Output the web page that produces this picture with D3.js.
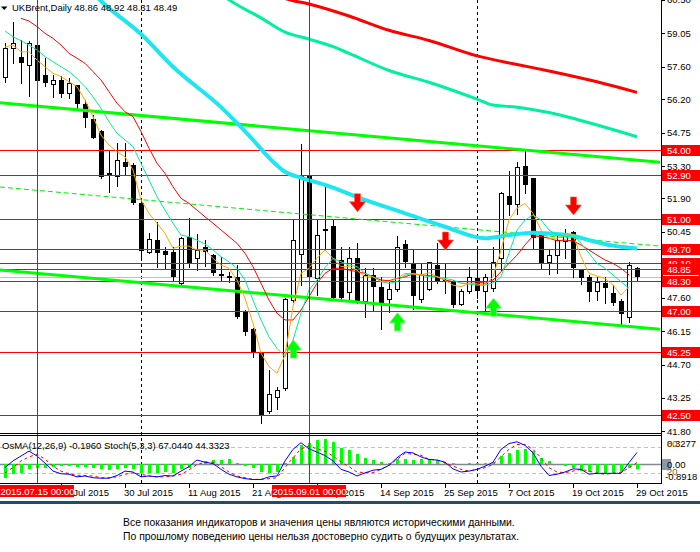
<!DOCTYPE html>
<html>
<head>
<meta charset="utf-8">
<script src="https://d3js.org/d3.v7.min.js"></script>
<style>
body { margin: 0; background: #fff; }
svg { display: block; font-family: "Liberation Sans", Arial, sans-serif; }
</style>
</head>
<body>
<svg id="chart" width="700" height="552"></svg>
<script>
// daily bars, index 0 = 9 Jul 2015 ... 79 = 29 Oct 2015  [open, high, low, close]
var bars = [
    [57.14, 58.65, 56.93, 58.43], [58.41, 59.55, 57.78, 58.64], [58.01, 58.76, 56.88, 57.78], [57.66, 58.73, 56.33, 58.62],
    [58.54, 58.62, 56.90, 56.98], [57.24, 57.97, 56.78, 56.91], [56.84, 57.24, 56.30, 57.01], [57.03, 57.20, 56.28, 56.42],
    [56.45, 57.10, 56.26, 56.91], [56.81, 56.83, 55.80, 55.97], [55.99, 56.16, 55.00, 55.39], [55.34, 55.51, 54.50, 54.53],
    [54.82, 54.85, 52.76, 52.81], [52.98, 53.99, 52.19, 52.91], [52.88, 54.28, 52.45, 53.56], [53.49, 54.31, 52.91, 53.27],
    [53.34, 53.42, 51.65, 51.71], [51.71, 51.90, 49.26, 49.62], [49.59, 50.38, 49.52, 50.12], [50.09, 50.89, 48.94, 49.54],
    [49.62, 49.80, 48.87, 49.45], [49.59, 49.78, 48.33, 48.48], [48.24, 50.24, 48.19, 50.17], [50.21, 51.03, 48.94, 49.11],
    [49.30, 50.35, 48.79, 49.66], [49.78, 50.10, 48.95, 49.56], [49.44, 49.50, 48.57, 48.65], [48.60, 49.37, 48.36, 48.56],
    [48.53, 48.72, 48.29, 48.43], [48.50, 49.01, 46.70, 46.77], [46.99, 47.05, 46.00, 46.12], [46.24, 46.30, 45.01, 45.23],
    [45.21, 45.25, 42.18, 42.47], [42.70, 44.46, 42.61, 43.41], [43.28, 43.71, 42.76, 43.59], [43.69, 47.58, 43.60, 47.52],
    [47.50, 50.96, 47.40, 50.10], [49.47, 54.25, 48.15, 52.87], [52.86, 52.90, 48.40, 48.48], [48.43, 50.98, 47.71, 50.31],
    [50.58, 52.40, 49.66, 50.48], [50.70, 50.98, 47.50, 47.57], [49.23, 49.80, 47.50, 47.57], [47.85, 49.80, 47.50, 49.30],
    [49.30, 49.95, 47.35, 47.42], [47.46, 48.87, 46.77, 48.58], [48.58, 48.87, 47.06, 48.07], [48.07, 48.50, 46.23, 47.35],
    [47.53, 48.29, 46.99, 47.96], [47.96, 50.26, 47.90, 49.80], [49.92, 50.09, 48.94, 49.16], [49.05, 49.66, 47.10, 47.68],
    [47.53, 49.08, 47.42, 48.61], [47.97, 49.16, 47.91, 49.12], [49.01, 49.96, 48.22, 48.29], [48.35, 49.08, 47.78, 48.28],
    [48.29, 48.35, 47.20, 47.28], [47.32, 47.96, 47.28, 47.89], [47.89, 48.94, 47.78, 48.50], [48.43, 49.66, 47.60, 47.89],
    [47.89, 48.64, 47.06, 48.47], [48.00, 49.80, 47.90, 49.15], [49.30, 52.19, 48.80, 52.14], [52.00, 53.10, 51.18, 51.61],
    [51.64, 53.49, 51.21, 53.24], [53.30, 53.96, 52.12, 52.48], [52.77, 52.80, 49.73, 50.17], [50.31, 50.35, 48.82, 49.08],
    [49.15, 49.66, 48.62, 49.44], [49.44, 50.38, 48.65, 50.09], [50.06, 50.59, 49.30, 50.40], [50.45, 50.48, 48.50, 48.87],
    [48.79, 48.82, 48.19, 48.43], [48.50, 48.58, 47.46, 47.85], [47.90, 48.47, 47.50, 48.26], [48.22, 48.47, 47.38, 48.03],
    [47.78, 48.14, 47.28, 47.38], [47.46, 47.53, 46.45, 46.89], [46.74, 49.15, 46.56, 49.01], [48.86, 48.92, 48.31, 48.49]
];

// thin moving averages, one value per bar
var maOrange = [58.46, 58.54, 58.25, 58.25, 57.89, 57.60, 57.32, 57.17, 56.95, 56.74,
    56.16, 55.44, 54.64, 54.21, 53.92, 53.70, 53.13, 51.83, 51.25, 50.82,
    50.38, 49.73, 49.83, 49.83, 49.66, 49.66, 49.30, 49.01, 48.87, 48.36,
    47.57, 46.49, 45.19, 44.61, 44.32, 45.11, 47.20, 48.65, 48.87, 49.30,
    49.66, 49.30, 48.94, 48.94, 48.79, 48.50, 48.50, 48.29, 48.29, 48.43,
    48.65, 48.62, 48.58, 48.68, 48.50, 48.36, 48.14, 48.07, 48.22, 48.19,
    48.14, 48.50, 49.66, 50.96, 51.47, 51.68, 51.25, 50.53, 50.17, 50.17,
    50.31, 50.31, 49.37, 48.65, 48.53, 48.43, 48.14, 47.71, 48.07];
var maGreen = [59.15, 58.90, 58.73, 58.54, 58.33, 58.04, 57.82, 57.60, 57.39, 57.10,
    56.74, 56.30, 55.80, 55.22, 54.72, 54.43, 54.14, 53.42, 52.69, 51.97,
    51.39, 50.82, 50.31, 50.24, 50.09, 49.92, 49.66, 49.37, 49.15, 48.87,
    48.36, 47.49, 46.63, 45.90, 45.40, 45.04, 45.76, 46.92, 47.93, 48.36,
    48.90, 49.30, 49.15, 49.01, 48.94, 48.65, 48.50, 48.29, 48.22, 48.29,
    48.58, 48.65, 48.58, 48.50, 48.50, 48.43, 48.36, 48.22, 48.19, 48.14,
    48.14, 48.23, 48.50, 49.52, 50.53, 50.96, 51.18, 50.96, 50.53, 50.31,
    50.24, 50.31, 49.95, 49.52, 49.08, 48.87, 48.58, 48.29, 48.00];
var maRed = [null, null, 59.70, 59.58, 59.34, 59.05, 58.83, 58.54, 58.18, 57.97,
    57.75, 57.39, 57.03, 56.52, 56.02, 55.65, 55.44, 54.79, 54.07, 53.42,
    52.98, 52.40, 51.90, 51.68, 51.39, 51.10, 50.82, 50.53, 50.24, 49.95,
    49.52, 48.94, 48.22, 47.49, 46.92, 46.63, 46.63, 47.06, 47.64, 48.22,
    48.65, 48.87, 48.87, 48.79, 48.72, 48.65, 48.50, 48.36, 48.33, 48.43,
    48.50, 48.62, 48.58, 48.55, 48.50, 48.36, 48.29, 48.29, 48.29, 48.27,
    48.22, 48.36, 48.72, 49.08, 49.44, 49.88, 50.27, 50.24, 50.17, 50.06,
    50.09, 50.06, 49.88, 49.66, 49.44, 49.23, 49.08, 48.87, 48.58];

// thick moving averages, read at [bar, price]
var maCyan = [[11, 60.8], [12, 60.45], [17, 59.02], [21, 57.60], [27, 55.85], [31, 54.43], [33, 53.66],
    [35, 53.05], [37, 52.79], [40, 52.48], [45, 51.83], [50, 51.25], [55, 50.67], [60, 50.17],
    [63, 50.31], [66, 50.41], [68, 50.38], [71, 50.28], [73, 50.09], [76, 49.85], [79, 49.73]];
var maSpring = [[27, 60.75], [28, 60.50], [32, 59.72], [35, 59.10], [38, 58.80], [41, 58.47], [43, 58.18],
    [48, 57.44], [53, 56.93], [59, 56.20], [61, 55.94], [64, 55.85], [68, 55.62], [74, 55.08], [79, 54.57]];
var maSlow = [[34, 60.70], [35, 60.56], [38, 60.32], [43, 59.80], [48, 59.18], [53, 58.74], [59, 58.07],
    [64, 57.70], [68, 57.42], [74, 56.95], [79, 56.49]];

// drawn objects
var levels = [54.00, 52.90, 51.00, 49.70, 49.10, 48.85, 48.30, 47.00, 45.25, 42.50];
var trendUpper = [[-0.625, 56.04], [81.875, 53.46]];
var trendLower = [[-0.625, 48.79], [81.875, 46.23]];
var trendDotted = [[-0.625, 52.39], [81.875, 49.83]];
var arrowsDown = [[44, 51.32], [55, 49.66], [71, 51.18]];
var arrowsUp = [[36, 45.76], [49, 46.94], [61, 47.57]];
var markedBars = [[4, '2015.07.15 00:00'], [38, '2015.09.01 00:00']];
var monthStarts = [17, 38, 59];
var lastPrice = 48.49;

// indicator window
var osma = [-0.60, -0.45, -0.38, -0.23, -0.15, -0.15, -0.10, -0.08, -0.08, -0.10,
    -0.10, -0.18, -0.23, -0.26, -0.23, -0.18, -0.23, -0.38, -0.41, -0.38,
    -0.35, -0.38, -0.23, -0.15, 0.02, 0.15, 0.20, 0.20, 0.26, 0.08,
    -0.08, -0.15, -0.35, -0.41, -0.35, 0.05, 0.35, 0.88, 0.95, 1.09,
    1.14, 1.01, 0.76, 0.65, 0.45, 0.30, 0.20, 0.10, 0.08, 0.26,
    0.26, 0.20, 0.26, 0.23, 0.20, 0.08, 0.05, 0.01, 0.08, 0.05,
    0.08, 0.10, 0.38, 0.50, 0.65, 0.71, 0.60, 0.30, 0.15, 0.00,
    -0.08, -0.15, -0.30, -0.35, -0.38, -0.38, -0.38, -0.35, -0.15, -0.196];
var stochMain = [33, 48, 59, 70, 59, 43, 25, 19, 18, 12, 14, 10, 9, 9, 15, 25, 23, 12, 14, 12,
    15, 14, 25, 35, 50, 45, 42, 29, 18, 12, 8, 6, 6, 12, 14, 48, 74, 89, 75, 68,
    60, 48, 29, 23, 14, 21, 27, 29, 38, 55, 68, 66, 57, 51, 50, 45, 30, 23, 25, 29,
    36, 45, 74, 87, 91, 83, 66, 36, 15, 18, 23, 30, 29, 18, 20, 20, 20, 20, 44, 67];
var stochSignal = [21, 33, 48, 57, 63, 52, 36, 25, 19, 15.5, 15, 14, 10, 10, 12, 18, 21, 18, 14, 12,
    12, 14, 18, 27.5, 40, 45, 45, 35, 23, 14, 10, 6.5, 6.5, 8, 10, 33, 55, 75, 81.5, 75,
    70, 59, 45.5, 35, 23, 21.5, 21.5, 29, 38, 51.5, 65, 63, 60.5, 51.5, 50, 44, 36.5, 29, 25, 29,
    32.5, 40, 57.5, 74, 85, 85, 74, 55, 32.5, 23, 21.5, 25, 29, 25, 20, 18, 20, 21.5, 32.5, 44];

// axes
var priceTicks = [60.50, 59.05, 57.60, 56.20, 54.75, 53.30, 51.90, 50.45, 49.00, 47.60, 46.15, 44.70, 43.25, 41.80];
var dateTicks = [[7, '20 Jul 2015'], [15, '30 Jul 2015'], [23, '11 Aug 2015'], [31, '21 Aug 2015'], [39, '2 Sep 2015'],
    [47, '14 Sep 2015'], [55, '25 Sep 2015'], [63, '7 Oct 2015'], [71, '19 Oct 2015'], [79, '29 Oct 2015']];
var footerLines = ['Все показания индикаторов и значения цены являются историческими данными.',
    'По прошлому поведению цены нельзя достоверно судить о будущих результатах.'];

var svg = d3.select('#chart');
var axisX = 661;

var xScale = d3.scaleLinear().domain([0, 79]).range([5, 637]);
var yScale = d3.scaleLinear().domain([41.689, 60.493]).range([434, 0]);
var stochScale = d3.scaleLinear().domain([0, 100]).range([482.2, 437.8]);
var osmaScale = d3.scaleLinear().domain([0, 1]).range([464.3, 442.3]);

function px(v) {
    return Math.round(v) + 0.5;
}

var defs = svg.append('defs');
defs.append('clipPath').attr('id', 'mainClip')
    .append('rect').attr('x', 0).attr('y', 0).attr('width', axisX).attr('height', 433);
defs.append('clipPath').attr('id', 'indClip')
    .append('rect').attr('x', 0).attr('y', 436).attr('width', axisX).attr('height', 47);

svg.append('rect').attr('width', 700).attr('height', 552).attr('fill', '#fff');

// period separators
svg.selectAll('.sep').data(monthStarts).enter().append('line')
    .attr('class', 'sep')
    .attr('x1', function (d) { return px(xScale(d)); })
    .attr('x2', function (d) { return px(xScale(d)); })
    .attr('y1', 0).attr('y2', 483)
    .style('stroke', '#000')
    .style('stroke-dasharray', '3,3')
    .style('shape-rendering', 'crispEdges');

var main = svg.append('g').attr('clip-path', 'url(#mainClip)');

main.append('line')
    .attr('x1', 0).attr('x2', axisX)
    .attr('y1', px(yScale(lastPrice))).attr('y2', px(yScale(lastPrice)))
    .style('stroke', '#c0c0c0')
    .style('shape-rendering', 'crispEdges');

// candles
var candle = main.selectAll('.candle').data(bars).enter().append('g')
    .attr('class', 'candle')
    .style('shape-rendering', 'crispEdges');
candle.append('line')
    .attr('x1', function (d, i) { return px(xScale(i)); })
    .attr('x2', function (d, i) { return px(xScale(i)); })
    .attr('y1', function (d) { return Math.round(yScale(d[1])); })
    .attr('y2', function (d) { return Math.round(yScale(d[2])) + 1; })
    .style('stroke', '#000');
candle.append('rect')
    .attr('x', function (d, i) { return d[3] >= d[0] ? Math.round(xScale(i)) - 1.5 : Math.round(xScale(i)) - 2; })
    .attr('y', function (d) {
        var t = Math.round(yScale(Math.max(d[0], d[3])));
        return d[3] >= d[0] ? t + 0.5 : t;
    })
    .attr('width', function (d) { return d[3] >= d[0] ? 4 : 5; })
    .attr('height', function (d) {
        var h = Math.round(yScale(Math.min(d[0], d[3]))) - Math.round(yScale(Math.max(d[0], d[3])));
        return d[3] >= d[0] ? Math.max(h, 1) : Math.max(h, 2);
    })
    .style('fill', function (d) { return d[3] >= d[0] ? '#fff' : '#000'; })
    .style('stroke', function (d) { return d[3] >= d[0] ? '#000' : 'none'; });

// horizontal levels
main.selectAll('.level').data(levels).enter().append('line')
    .attr('class', 'level')
    .attr('x1', 0).attr('x2', axisX)
    .attr('y1', function (d) { return px(yScale(d)); })
    .attr('y2', function (d) { return px(yScale(d)); })
    .style('stroke', '#ff0000')
    .style('shape-rendering', 'crispEdges');

var lineGen = d3.line()
    .x(function (d) { return xScale(d[0]); })
    .y(function (d) { return yScale(d[1]); });
var smoothGen = d3.line()
    .curve(d3.curveMonotoneX)
    .x(function (d) { return xScale(d[0]); })
    .y(function (d) { return yScale(d[1]); });
var barGen = d3.line()
    .defined(function (d) { return d != null; })
    .x(function (d, i) { return xScale(i); })
    .y(function (d) { return yScale(d); });

// trend lines
main.append('path').attr('d', lineGen(trendUpper))
    .style('fill', 'none').style('stroke', '#00ff00').style('stroke-width', 3);
main.append('path').attr('d', lineGen(trendLower))
    .style('fill', 'none').style('stroke', '#00ff00').style('stroke-width', 3);
main.append('path').attr('d', lineGen(trendDotted))
    .style('fill', 'none').style('stroke', '#00ee00').style('stroke-width', 1)
    .style('stroke-dasharray', '5,3');

// moving averages
main.append('path').attr('d', smoothGen(maSlow))
    .style('fill', 'none').style('stroke', '#ff0000').style('stroke-width', 3);
main.append('path').attr('d', smoothGen(maSpring))
    .style('fill', 'none').style('stroke', '#00f0a0').style('stroke-width', 3);
main.append('path').attr('d', smoothGen(maCyan))
    .style('fill', 'none').style('stroke', '#1ee6f0').style('stroke-width', 4);
main.append('path').attr('d', barGen(maRed))
    .style('fill', 'none').style('stroke', '#ff0000').style('stroke-width', 1);
main.append('path').attr('d', barGen(maGreen))
    .style('fill', 'none').style('stroke', '#00f090').style('stroke-width', 1);
main.append('path').attr('d', barGen(maOrange))
    .style('fill', 'none').style('stroke', '#ffa500').style('stroke-width', 1);

// arrows
var downArrow = 'M-3,-18L3,-18L3,-10L8,-10L0,0L-8,-10L-3,-10Z';
var upArrow = 'M-3,18L3,18L3,10L8,10L0,0L-8,10L-3,10Z';
main.selectAll('.arrDown').data(arrowsDown).enter().append('path')
    .attr('class', 'arrDown')
    .attr('d', downArrow)
    .attr('transform', function (d) { return 'translate(' + (xScale(d[0]) + 0.5) + ',' + yScale(d[1]) + ')'; })
    .style('fill', '#ff0000')
    .style('stroke', '#ff6040')
    .style('stroke-width', 0.6);
main.selectAll('.arrUp').data(arrowsUp).enter().append('path')
    .attr('class', 'arrUp')
    .attr('d', upArrow)
    .attr('transform', function (d) { return 'translate(' + (xScale(d[0]) + 0.5) + ',' + yScale(d[1]) + ')'; })
    .style('fill', '#00ff00')
    .style('stroke', '#60ff60')
    .style('stroke-width', 0.6);

// indicator window
var ind = svg.append('g').attr('clip-path', 'url(#indClip)');
ind.selectAll('.lvl').data([80, 20]).enter().append('line')
    .attr('x1', 0).attr('x2', axisX)
    .attr('y1', function (d) { return px(stochScale(d)); })
    .attr('y2', function (d) { return px(stochScale(d)); })
    .style('stroke', '#c0c0c0')
    .style('stroke-dasharray', '4,3')
    .style('shape-rendering', 'crispEdges');
ind.append('line')
    .attr('x1', 0).attr('x2', axisX)
    .attr('y1', px(osmaScale(0))).attr('y2', px(osmaScale(0)))
    .style('stroke', '#808890')
    .style('stroke-width', 1.5);
ind.selectAll('.osma').data(osma).enter().append('rect')
    .attr('class', 'osma')
    .attr('x', function (d, i) { return Math.round(xScale(i)) - 1; })
    .attr('y', function (d) { return Math.min(osmaScale(d), osmaScale(0)); })
    .attr('width', 3)
    .attr('height', function (d) { return Math.abs(osmaScale(d) - osmaScale(0)); })
    .style('fill', '#00ff00')
    .style('shape-rendering', 'crispEdges');
var stochGen = d3.line()
    .x(function (d, i) { return xScale(i); })
    .y(function (d) { return stochScale(d); });
ind.append('path').attr('d', stochGen(stochSignal))
    .style('fill', 'none').style('stroke', '#ff0000').style('stroke-width', 1)
    .style('stroke-dasharray', '3,3');
ind.append('path').attr('d', stochGen(stochMain))
    .style('fill', 'none').style('stroke', '#0000ff').style('stroke-width', 1);

// marked vertical lines
svg.selectAll('.vmark').data(markedBars).enter().append('line')
    .attr('x1', function (d) { return px(xScale(d[0])); })
    .attr('x2', function (d) { return px(xScale(d[0])); })
    .attr('y1', 0).attr('y2', 483)
    .style('stroke', '#ff0000')
    .style('shape-rendering', 'crispEdges');

// frames
var frame = svg.append('g').style('shape-rendering', 'crispEdges').style('stroke', '#000');
frame.append('line').attr('x1', 0).attr('x2', axisX).attr('y1', 433.5).attr('y2', 433.5);
frame.append('line').attr('x1', 0).attr('x2', axisX).attr('y1', 435.5).attr('y2', 435.5);
frame.append('line').attr('x1', 0).attr('x2', axisX).attr('y1', 483.5).attr('y2', 483.5);
frame.append('line').attr('x1', axisX + 0.5).attr('x2', axisX + 0.5).attr('y1', 0).attr('y2', 484);

// header
svg.append('path').attr('d', 'M1,6.5L7.5,6.5L4.25,10Z').style('fill', '#000');
svg.append('text')
    .attr('x', 12).attr('y', 11)
    .style('font-size', '9.5px')
    .text('UKBrent,Daily  ' + bars[79][0].toFixed(2) + ' ' + bars[79][1].toFixed(2) + ' ' + bars[79][2].toFixed(2) + ' ' + bars[79][3].toFixed(2));
svg.append('text')
    .attr('x', 2).attr('y', 448.5)
    .style('font-size', '9.5px')
    .text('OsMA(12,26,9) ' + osma[79].toFixed(4) + '  Stoch(5,3,3) 67.0440 44.3323');

// price axis
var pAxis = svg.append('g').style('font-size', '9.5px');
pAxis.selectAll('.ptick').data(priceTicks).enter().append('line')
    .attr('x1', axisX).attr('x2', axisX + 4)
    .attr('y1', function (d) { return px(yScale(d)); })
    .attr('y2', function (d) { return px(yScale(d)); })
    .style('stroke', '#000').style('shape-rendering', 'crispEdges');
pAxis.selectAll('.plabel').data(priceTicks).enter().append('text')
    .attr('x', 667)
    .attr('y', function (d) { return yScale(d) + 3.5; })
    .text(function (d) { return d.toFixed(2); });

// last price box under the level tags
pAxis.append('rect')
    .attr('x', 662.5).attr('y', Math.round(yScale(lastPrice)) - 4.5)
    .attr('width', 37).attr('height', 10)
    .style('fill', '#fff').style('stroke', '#000').style('shape-rendering', 'crispEdges');

var tag = pAxis.selectAll('.tag').data(levels).enter().append('g');
tag.append('rect')
    .attr('x', 662).attr('y', function (d) { return Math.round(yScale(d)) - 5; })
    .attr('width', 38).attr('height', 11)
    .style('fill', '#ff0000').style('shape-rendering', 'crispEdges');
tag.append('text')
    .attr('x', 667).attr('y', function (d) { return yScale(d) + 4; })
    .style('fill', '#fff')
    .text(function (d) { return d.toFixed(2); });

// indicator axis
pAxis.append('text').attr('x', 667).attr('y', 446.5).text('0.3277');
pAxis.append('text').attr('x', 667).attr('y', 446.5).style('fill', '#a05a00').text('80');
pAxis.append('rect').attr('x', 662).attr('y', 459).attr('width', 9).attr('height', 11)
    .style('fill', '#8c9aa8');
pAxis.append('text').attr('x', 667).attr('y', 468).text('0.00');
pAxis.append('text').attr('x', 667).attr('y', 474.5).style('fill', '#a05a00').text('20');
pAxis.append('text').attr('x', 665).attr('y', 480).text('-0.8918');

// date axis
var dAxis = svg.append('g').style('font-size', '9.5px');
dAxis.selectAll('.dtick').data(dateTicks).enter().append('line')
    .attr('x1', function (d) { return px(xScale(d[0])); })
    .attr('x2', function (d) { return px(xScale(d[0])); })
    .attr('y1', 484).attr('y2', 488)
    .style('stroke', '#000').style('shape-rendering', 'crispEdges');
dAxis.selectAll('.dlabel').data(dateTicks).enter().append('text')
    .attr('x', function (d) { return xScale(d[0]) - 1; })
    .attr('y', 495.5)
    .text(function (d) { return d[1]; });

var mark = dAxis.selectAll('.dmark').data(markedBars).enter().append('g');
mark.append('rect')
    .attr('x', function (d) { return Math.max(0, Math.round(xScale(d[0])) - 37); })
    .attr('y', 485).attr('width', function (d) { return Math.round(xScale(d[0])) - 37 < 0 ? 76 : 74; })
    .attr('height', 12)
    .style('fill', '#ff0000').style('shape-rendering', 'crispEdges');
mark.append('text')
    .attr('x', function (d) { return Math.max(37, xScale(d[0]) + 0.5); })
    .attr('y', 495)
    .attr('text-anchor', 'middle')
    .style('fill', '#fff')
    .text(function (d) { return d[1]; });

// window bottom border and footer
svg.append('rect').attr('x', 0).attr('y', 501).attr('width', 700).attr('height', 3)
    .style('fill', '#1f4d6b');
svg.selectAll('.foot').data(footerLines).enter().append('text')
    .attr('x', 123)
    .attr('y', function (d, i) { return 526 + i * 14; })
    .style('font-size', '10.4px')
    .text(function (d) { return d; });
</script>
</body>
</html>
